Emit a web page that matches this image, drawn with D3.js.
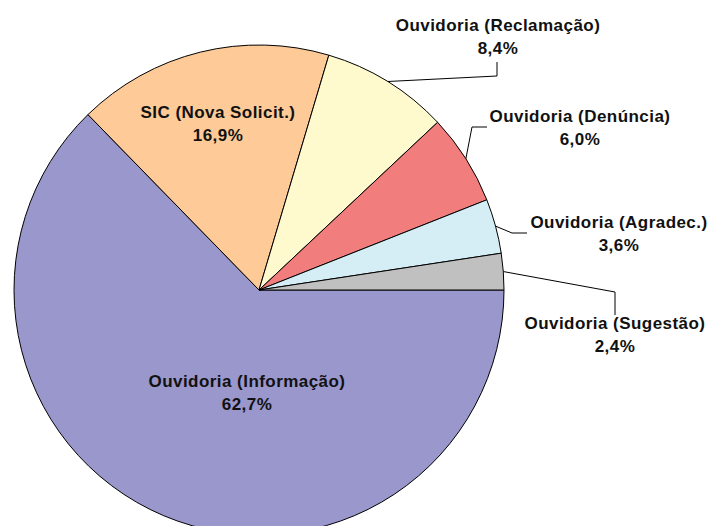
<!DOCTYPE html>
<html>
<head>
<meta charset="utf-8">
<script src="https://cdn.jsdelivr.net/npm/d3@7"></script>
<style>
  body { margin: 0; background: #fff; }
  text { font-family: Arial, "Liberation Sans", Helvetica, sans-serif; font-weight: bold; font-size: 17px; letter-spacing: 0.45px; fill: #111; }
</style>
</head>
<body>
<svg id="chart"></svg>
<script>
const categories = ["Ouvidoria (Informação)", "SIC (Nova Solicit.)", "Ouvidoria (Reclamação)",
                    "Ouvidoria (Denúncia)", "Ouvidoria (Agradec.)", "Ouvidoria (Sugestão)"];
const values = [62.7, 16.9, 8.4, 6.0, 3.6, 2.4];
const valueLabels = ["62,7%", "16,9%", "8,4%", "6,0%", "3,6%", "2,4%"];
const colors = ["#9a97cc", "#fdca98", "#fefacd", "#f27d7d", "#d5edf4", "#c0c0c0"];

const width = 707, height = 526;
const cx = 259, cy = 290, r = 245;

// label layout: text centre + first baseline, and leader elbow/end (null = inside label)
const layout = [
  { x: 247, y: 387, leader: null },
  { x: 218, y: 118, leader: null },
  { x: 498, y: 31, leader: [[497, 76], [497, 62]] },
  { x: 580, y: 122, leader: [[472, 127], [487, 127]] },
  { x: 619, y: 228, leader: [[512, 233], [527, 233]] },
  { x: 615, y: 329, leader: [[615, 292], [615, 315]] }
];

const svg = d3.select("#chart").attr("width", width).attr("height", height);

const pie = d3.pie().sort(null).value(d => d)
  .startAngle(Math.PI / 2).endAngle(Math.PI / 2 + 2 * Math.PI);
const arcs = pie(values);
const arc = d3.arc().innerRadius(0).outerRadius(r);

const g = svg.append("g").attr("transform", `translate(${cx},${cy})`);

g.selectAll("path")
  .data(arcs)
  .enter()
  .append("path")
  .attr("d", arc)
  .attr("fill", (d, i) => colors[i])
  .attr("stroke", "#000")
  .attr("stroke-width", 1);

// leader lines from slice edge midpoint
arcs.forEach((d, i) => {
  const L = layout[i];
  if (!L.leader) return;
  const a = (d.startAngle + d.endAngle) / 2;
  const start = [cx + r * Math.sin(a), cy - r * Math.cos(a)];
  svg.append("polyline")
    .attr("points", [start, ...L.leader].map(p => p.join(",")).join(" "))
    .attr("fill", "none")
    .attr("stroke", "#000")
    .attr("stroke-width", 1);
});

categories.forEach((c, i) => {
  const L = layout[i];
  const t = svg.append("text").attr("text-anchor", "middle");
  t.append("tspan").attr("x", L.x).attr("y", L.y).text(c);
  t.append("tspan").attr("x", L.x).attr("y", L.y + 22.5).text(valueLabels[i]);
});
</script>
</body>
</html>
